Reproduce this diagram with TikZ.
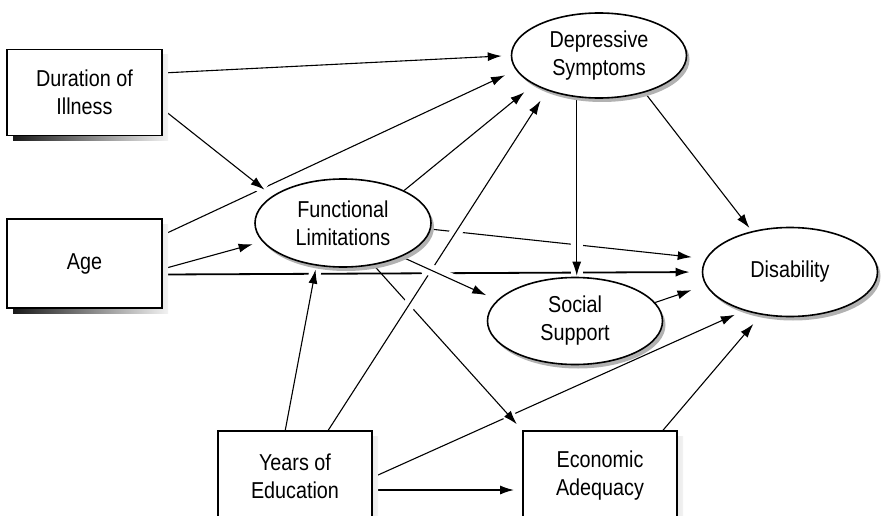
\documentclass[tikz,border=0pt]{standalone}
\usepackage{fontspec}
\setmainfont{Liberation Sans}[FakeStretch=0.86]
\usetikzlibrary{arrows.meta,shapes.geometric,shadows,backgrounds}

\begin{document}
\begin{tikzpicture}[
        x=1pt, y=-1pt,
        every node/.style={align=center, font=\fontsize{23}{28}\selectfont},
        box/.style={draw, line width=1.6pt, fill=white,
        minimum width=154pt, minimum height=86pt,
        drop shadow={shadow xshift=6pt, shadow yshift=-5pt, opacity=1,
        left color=black!90, right color=black!5}},
        oval/.style={draw, ellipse, line width=1.6pt, fill=white,
        minimum width=176pt, minimum height=88pt, inner sep=0pt,
        drop shadow={shadow xshift=3pt, shadow yshift=-4pt, opacity=1,
        fill=black!30}},
        arr/.style={-{Latex[length=14pt,width=9pt]}, line width=1.1pt,
        shorten >=#1},
        arr/.default=10pt,
        gapline/.style={preaction={draw=white, line width=12pt, arrows=-}}
      ]
    \useasboundingbox (0,0) rectangle (883,516);
    \clip (0,0) rectangle (883,516);
    \node[box, minimum width=155pt] (dur) at (84.5,92.5)
    {Duration of\\Illness};
    \node[box, minimum width=155pt, minimum height=89pt] (age) at (84.5,263.5)
    {Age};
    \node[box, minimum height=90pt] (yrs) at (295,476)
    {Years of\\Education};
    \node[box, minimum height=90pt] (eco) at (600,476)
    {Economic\\Adequacy};
    \node[oval] (fun) at (343,223)
    {Functional\\Limitations};
    \node[oval, minimum width=175pt, minimum height=85pt] (dep) at (599,55.5)
    {Depressive\\Symptoms};
    \node[oval, minimum width=175pt, minimum height=89pt] (dis) at (790,272)
    {Disability};
    \node[oval, minimum width=175pt, minimum height=87pt] (soc) at (575,321)
    {Social\\Support};
    \begin{scope}[on background layer]
    \draw[arr] (yrs.-1.5) -- (dis.220);
    \draw[arr=8pt, gapline] (fun.-54.5) -- (eco.north west);
    \draw[arr=12pt, line width=1.8pt] (age.-8.4) -- (dis.180);
    \draw[arr=14pt] (fun.-4.6) -- (dis.171.5);
    \draw[arr=12pt] (age.20.8) -- (dep.190.5);
    \draw[arr=12pt, gapline] (yrs.54.6) -- (dep.214);
    \draw[arr=12pt, gapline] (fun.-30.8) -- (soc.165.7);
    \draw[arr=1pt, gapline] (dep.242) -- (dep.242 |- soc.north);
    \draw[arr=4pt, gapline] (yrs.102.5) -- (fun.238.8);
    \draw[arr, gapline] (dur.-12.7) -- (fun.159);
    \draw[arr=9pt] (dur.14) -- (dep.180);
    \draw[arr] (age.-4.8) -- (fun.193.7);
    \draw[arr=12pt] (fun.28.8) -- (dep.204.4);
    \draw[arr=4pt] (dep.-39.8) -- (dis.133.7);
    \draw[arr=15pt] (soc.13.4) -- (dis.189.1);
    \draw[arr=12pt] (eco.36.9) -- (dis.236);
    \draw[arr=8pt, line width=1.8pt] ([yshift=-14pt]yrs.east) -- ([yshift=-14pt]eco.west);
    \end{scope}
      \end{tikzpicture}
\end{document}
